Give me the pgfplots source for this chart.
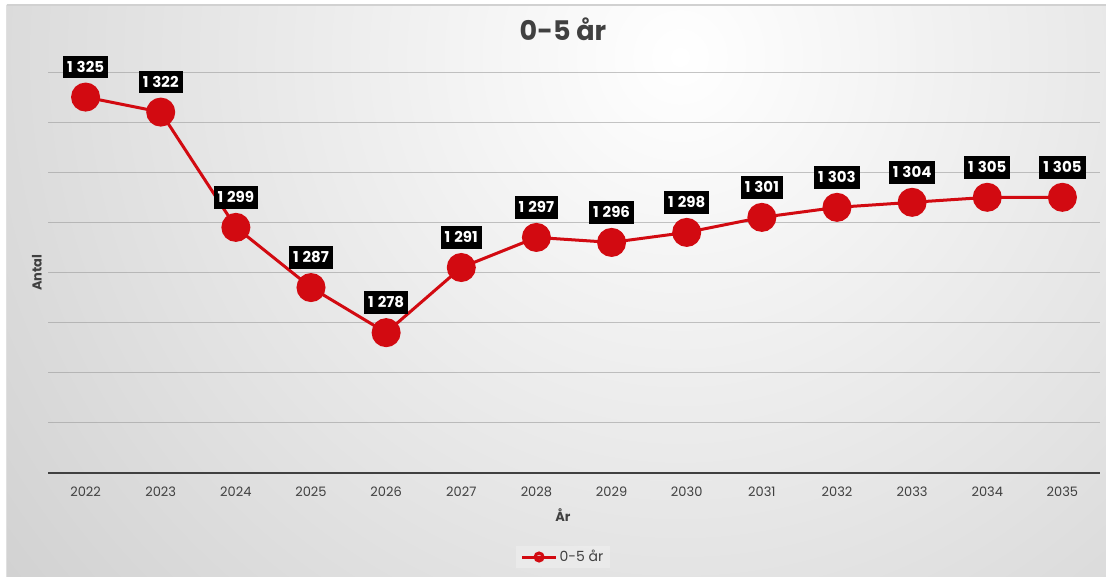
\documentclass[border=0pt]{standalone}
\usepackage{pgfplots}
\pgfplotsset{compat=1.18}
\usepackage{fontspec}
\setmainfont{Poppins}
\newcommand{\ts}{\kern4pt}
\definecolor{ser}{RGB}{210,10,17}
\definecolor{txt}{RGB}{64,64,64}
\definecolor{panelout}{RGB}{194,194,194}
\definecolor{grid}{RGB}{150,150,150}
\pgfdeclarelayer{bg}
\pgfsetlayers{bg,main}
\pgfplotstableread{
x year val lab
0 2022 1325 1\ts325
1 2023 1322 1\ts322
2 2024 1299 1\ts299
3 2025 1287 1\ts287
4 2026 1278 1\ts278
5 2027 1291 1\ts291
6 2028 1297 1\ts297
7 2029 1296 1\ts296
8 2030 1298 1\ts298
9 2031 1301 1\ts301
10 2032 1303 1\ts303
11 2033 1304 1\ts304
12 2034 1305 1\ts305
13 2035 1305 1\ts305
}\datatable
\begin{document}
\begin{tikzpicture}
\begin{axis}[
  scale only axis, width=1052pt, height=401pt,
  xmin=-0.5, xmax=13.5, ymin=1250, ymax=1330,
  axis lines*=left,
  x axis line style={draw=txt, line width=2pt},
  y axis line style={draw=none},
  xtick={0,...,13},
  xticklabels={2022,2023,2024,2025,2026,2027,2028,2029,2030,2031,2032,2033,2034,2035},
  ytick={1260,1270,...,1330},
  yticklabels={},
  major tick length=0pt,
  ymajorgrids,
  grid style={draw=grid, opacity=0.55, line width=1pt},
  xticklabel style={font=\fontsize{13}{15}\selectfont, text=txt, anchor=center, yshift=-19pt},
  xlabel={År},
  xlabel style={font=\bfseries\fontsize{13}{15}\selectfont, text=txt, at={(axis description cs:0.4895,-0.1047)}, anchor=center},
  ylabel={Antal},
  ylabel style={font=\bfseries\fontsize{13}{15}\selectfont, text=txt, at={(axis description cs:-0.0105,0.5)}, anchor=center},
  title={0-5 år},
  title style={font=\bfseries\fontsize{27}{30}\selectfont, text=txt, at={(axis description cs:0.4895,1.0923)}, anchor=center},
  clip=false,
  legend style={at={(axis description cs:0.4895,-0.2095)}, anchor=center, fill=white, fill opacity=0.25, text opacity=1, draw=none, font=\fontsize{14}{16}\selectfont, text=txt, inner xsep=5pt, inner ysep=3pt},
  legend cell align=left,
]
\coordinate (O) at (rel axis cs:0,0);
\addplot[color=ser, line width=3pt, mark=*, mark size=13pt, mark options={solid, fill=ser, draw=ser},
  nodes near coords,
  point meta=explicit symbolic,
  nodes near coords style={anchor=center, yshift=30pt, fill=black, text=white, font=\bfseries\fontsize{15}{17}\selectfont, inner xsep=4pt, inner ysep=6pt, text height=10.5pt, text depth=0pt, opacity=1},
  legend image code/.code={\draw[ser, line width=3pt] (0pt,0pt) -- (34pt,0pt); \fill[ser] (17pt,0pt) circle (4pt);}
] table[x=x, y=val, meta=lab] {\datatable};
\addlegendentry{0-5 år}
\end{axis}
\begin{pgfonlayer}{bg}
\begin{scope}[shift={(O)}, x=1pt, y=1pt]
\fill[white] (-48,-104) rectangle (1058,473);
\begin{scope}
\clip (-41,-104) rectangle (1058,468);
\fill[panelout] (-41,-104) rectangle (1058,468);
\shade[inner color=white, outer color=panelout] (632,416) circle (1150);
\end{scope}
\draw[black!18, line width=1.5pt] (-41,468) -- (1058,468);
\draw[black!12, line width=1pt] (-41,-104) -- (-41,468);
\end{scope}
\end{pgfonlayer}
\pgfresetboundingbox
\begin{scope}[shift={(O)}, x=1pt, y=1pt]
\useasboundingbox (-48,-104) rectangle (1058,473);
\end{scope}
\end{tikzpicture}
\end{document}
